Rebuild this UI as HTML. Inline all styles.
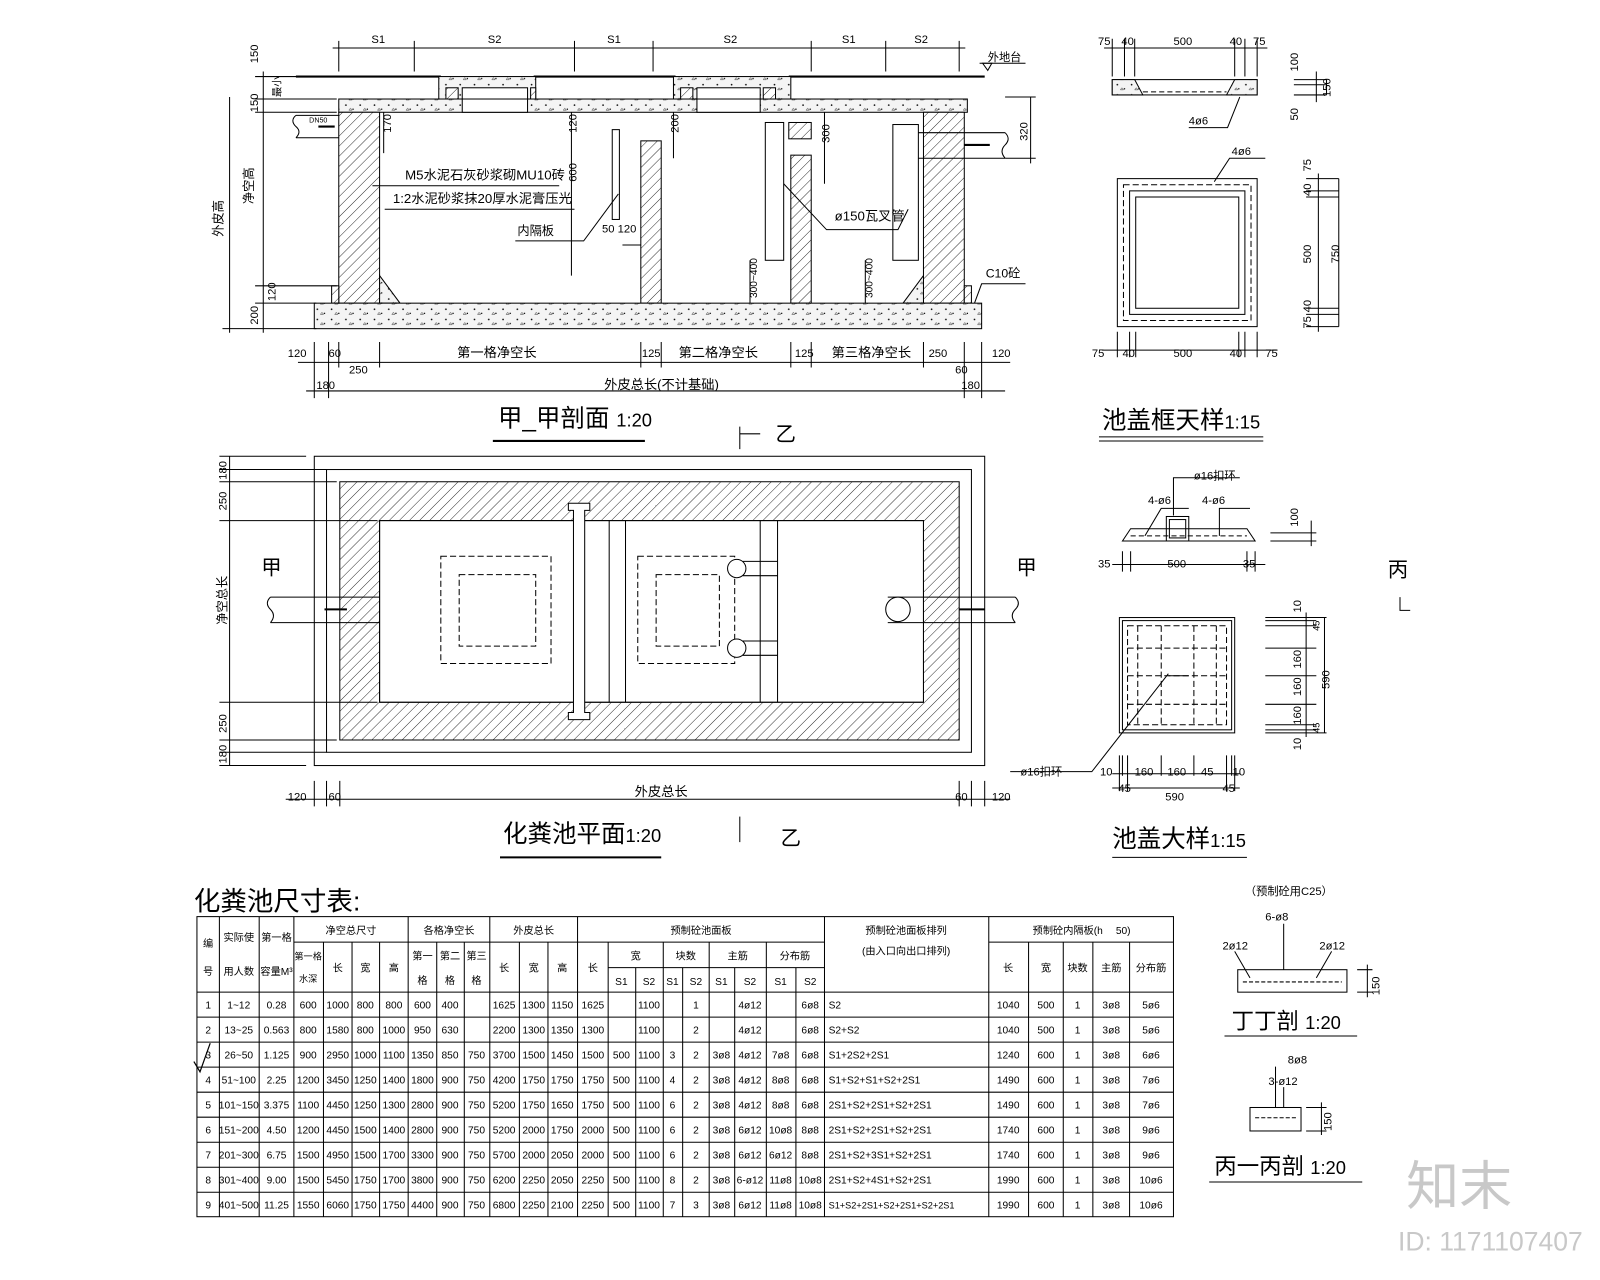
<!DOCTYPE html>
<html><head><meta charset="utf-8">
<style>
html,body{margin:0;padding:0;background:#fff;}
svg{display:block;}
text{font-family:"Liberation Sans","Noto Sans CJK SC",sans-serif;fill:#000;}
.cj{font-family:"Liberation Sans","Noto Sans CJK SC",sans-serif;}
.s{font-size:11px;}
.t{font-size:10px;}
</style></head><body>
<svg width="1600" height="1280" viewBox="0 0 1568 1254" preserveAspectRatio="none" xmlns="http://www.w3.org/2000/svg">
<defs>
<pattern id="h" width="7" height="7" patternUnits="userSpaceOnUse" patternTransform="rotate(45)">
<rect width="7" height="7" fill="#fff"/><line x1="0" y1="0" x2="0" y2="7" stroke="#000" stroke-width="0.8"/></pattern>
<pattern id="c" width="14" height="10" patternUnits="userSpaceOnUse">
<rect width="14" height="10" fill="#f4f4f4"/><circle cx="3" cy="3" r="0.8" fill="#000"/><circle cx="10" cy="7" r="0.7" fill="#000"/><path d="M6 8 l1.5 -2 l1.5 2z" fill="none" stroke="#000" stroke-width="0.4"/></pattern>
</defs>
<rect width="1568" height="1254" fill="#fff"/>
<g stroke="#000" stroke-width="1" fill="none">
<!-- SECTION top dims -->
<line x1="326" y1="47" x2="946" y2="47"/>
<path d="M332 40V70 M406 40V70 M563 40V70 M640 40V70 M795 40V70 M868 40V70 M940 40V70"/>
<!-- ground -->
<line x1="290" y1="75" x2="432" y2="75" stroke-width="2"/>
<line x1="523" y1="75" x2="662" y2="75" stroke-width="2"/>
<line x1="773" y1="75" x2="965" y2="75" stroke-width="2"/>
<path d="M963 62 L972 62 L968 69Z"/>
<line x1="960" y1="62" x2="1005" y2="62"/>
<!-- collars -->
<rect x="430" y="75" width="95" height="22" fill="url(#c)"/>
<rect x="453" y="86" width="64" height="11" fill="#fff"/>
<rect x="437" y="86" width="12" height="11" fill="url(#h)"/>
<rect x="520" y="86" width="5" height="11" fill="url(#h)"/>
<rect x="660" y="75" width="115" height="22" fill="url(#c)"/>
<rect x="683" y="86" width="62" height="11" fill="#fff"/>
<rect x="667" y="86" width="12" height="11" fill="url(#h)"/>
<rect x="748" y="86" width="12" height="11" fill="url(#h)"/>
<!-- slab -->
<rect x="332" y="97" width="616" height="13" fill="url(#c)"/>
<rect x="453" y="97" width="64" height="13" fill="#fff"/>
<rect x="683" y="97" width="62" height="13" fill="#fff"/>
<!-- walls -->
<rect x="332" y="110" width="40" height="187" fill="url(#h)"/>
<rect x="325" y="280" width="7" height="17" fill="url(#h)"/>
<rect x="905" y="110" width="40" height="187" fill="url(#h)"/>
<rect x="945" y="280" width="7" height="17" fill="url(#h)"/>
<rect x="628" y="138" width="20" height="159" fill="url(#h)"/>
<rect x="775" y="152" width="20" height="145" fill="url(#h)"/>
<rect x="773" y="120" width="22" height="16" fill="url(#h)"/>
<path d="M372 270 L392 297 L372 297Z M905 270 L885 297 L905 297Z" fill="url(#c)"/>
<rect x="308" y="297" width="654" height="25" fill="url(#c)"/>
<rect x="600" y="127" width="7" height="88"/>
<rect x="750" y="120" width="18" height="135"/>
<rect x="875" y="122" width="25" height="133"/>
<!-- pipes -->
<path d="M290 113 H332 M290 135 H332 M290 113 q-6 5 0 11 q6 5 0 11"/>
<path d="M900 130 H985 M900 155 H985 M985 130 q6 6 0 12 q-6 6 0 13"/>
<path d="M312 124 H328 M945 142 H970" stroke-width="2"/>
<!-- leaders -->
<path d="M365 182 H548 M377 205 H563 M505 236 H572 L606 190"/>
<path d="M768 180 L810 225 H880 L890 205"/>
<path d="M955 297 L962 278 H1005"/>
<!-- inner dims -->
<path d="M376 110 V150 M560 110 V270 M660 110 V155 M808 110 V180 M735 255 V297 M848 255 V297 M610 240 H628"/>
<path d="M985 95 H1015 M985 155 H1015 M1010 95 V160"/>
<!-- left dims -->
<path d="M258 70 V326 M225 95 V326 M250 75 H300 M250 97 H330 M250 110 H330 M250 280 H330 M250 297 H310 M218 322 H310"/>
<!-- bottom dims -->
<path d="M292 355 H990 M300 383 H985"/>
<path d="M308 335 V390 M322 335 V390 M332 335 V360 M372 335 V360 M628 335 V360 M648 335 V360 M775 335 V360 M795 335 V360 M905 335 V360 M945 335 V390 M962 335 V390"/>
<line x1="483" y1="432" x2="632" y2="432" stroke-width="2"/>
<path d="M725 418 V440 M725 425 H745"/>

<!-- PLAN -->
<rect x="308" y="447" width="657" height="303"/>
<rect x="320" y="460" width="632" height="277"/>
<path d="M333 472 H940 V725 H333Z M372 510 V688 H905 V510Z" fill="url(#h)" fill-rule="evenodd"/>
<rect x="372" y="510" width="533" height="178"/>
<path d="M557 493 H578 V500 H573 V698 H578 V705 H557 V698 H562 V500 H557Z" fill="#fff"/>
<path d="M597 510 V688 M613 510 V688 M745 510 V688 M762 510 V688"/>
<g stroke-dasharray="6 3">
<rect x="432" y="545" width="108" height="105"/>
<rect x="450" y="563" width="75" height="70"/>
<rect x="625" y="545" width="95" height="105"/>
<rect x="643" y="563" width="62" height="70"/>
</g>
<path d="M728 550 H762 M728 564 H762 M728 628 H762 M728 642 H762"/>
<circle cx="722" cy="557" r="9" fill="#fff"/><circle cx="722" cy="635" r="9" fill="#fff"/>
<path d="M265 585 H372 M265 610 H372 M265 585 q-6 6 0 12 q6 6 0 13" fill="#fff"/>
<path d="M870 585 H995 M870 610 H995 M995 585 q6 6 0 12 q-6 6 0 13"/>
<circle cx="880" cy="597" r="12" fill="#fff"/>
<path d="M318 597 H340 M940 597 H965" stroke-width="2"/>
<path d="M225 447 V750 M215 447 H300 M215 460 H320 M215 472 H330 M215 510 H370 M215 688 H370 M215 725 H330 M215 737 H320 M215 750 H300"/>
<path d="M280 783 H990 M308 765 V790 M320 765 V790 M333 765 V790 M940 765 V790 M952 765 V790 M965 765 V790"/>
<line x1="490" y1="840" x2="648" y2="840" stroke-width="2"/>
<path d="M725 800 V825"/>
<path d="M1372 585 V598 H1382"/>

<!-- RIGHT: cover frame -->
<path d="M1082 47 H1242 M1090 38 V75 M1102 38 V75 M1112 38 V75 M1210 38 V75 M1220 38 V75 M1232 38 V75"/>
<rect x="1090" y="78" width="142" height="15"/>
<path d="M1090 78 H1112 L1120 93 H1090Z M1232 78 H1210 L1202 93 H1232Z" fill="url(#c)"/>
<path d="M1120 90 H1202" stroke-dasharray="5 3"/>
<path d="M1165 125 H1203 L1215 95"/>
<path d="M1268 78 H1300 M1268 83 H1300 M1268 93 H1300 M1290 70 V100 M1300 78 V93"/>
<rect x="1095" y="175" width="137" height="145"/>
<rect x="1101" y="181" width="125" height="133" stroke-dasharray="6 3"/>
<rect x="1107" y="187" width="113" height="121"/>
<rect x="1113" y="193" width="101" height="109"/>
<path d="M1190 178 L1205 155 H1240"/>
<path d="M1095 325 V350 M1107 325 V350 M1113 325 V350 M1214 325 V350 M1220 325 V350 M1232 325 V350 M1080 343 H1252"/>
<path d="M1280 175 H1312 M1280 187 H1312 M1280 193 H1312 M1280 302 H1312 M1280 308 H1312 M1280 320 H1312 M1292 170 V325 M1312 175 V320"/>
<line x1="1077" y1="428" x2="1238" y2="428"/><line x1="1077" y1="432" x2="1238" y2="432"/>

<!-- cover detail -->
<path d="M1100 530 L1108 518 H1222 L1230 530Z"/>
<rect x="1143" y="506" width="22" height="24"/><rect x="1146" y="509" width="16" height="18"/>
<path d="M1108 525 H1222" stroke-dasharray="5 3"/>
<path d="M1150 505 V468 H1215 M1122 525 L1138 498 H1165 M1195 525 V498 H1225"/>
<path d="M1100 540 V560 M1108 540 V560 M1222 540 V560 M1230 540 V560 M1090 553 H1240"/>
<path d="M1245 522 H1290 M1245 530 H1290 M1285 510 V535"/>
<rect x="1097" y="605" width="113" height="113"/><rect x="1100" y="608" width="107" height="107"/>
<g stroke-dasharray="6 3">
<rect x="1105" y="613" width="97" height="97"/>
<path d="M1115 613 V710 M1138 613 V710 M1170 613 V710 M1192 613 V710 M1105 635 H1202 M1105 662 H1202 M1105 690 H1202"/>
</g>
<path d="M1145 662 H1165 M1145 660 L1070 756 H990"/>
<path d="M1097 740 V775 M1100 740 V760 M1105 740 V775 M1138 740 V760 M1170 740 V760 M1202 740 V775 M1207 740 V760 M1210 740 V775 M1090 758 H1215 M1090 772 H1215"/>
<path d="M1240 605 H1300 M1240 608 H1290 M1240 613 H1290 M1240 635 H1290 M1240 662 H1290 M1240 690 H1290 M1240 710 H1290 M1240 715 H1290 M1240 718 H1300 M1280 600 V722 M1298 605 V718"/>
<line x1="1090" y1="840" x2="1222" y2="840"/>

<!-- 丁丁剖 -->
<rect x="1213" y="950" width="107" height="22"/>
<path d="M1218 962 H1315" stroke-dasharray="4 2"/>
<path d="M1258 905 V950 M1210 932 L1225 958 M1305 932 L1290 958 M1330 950 H1345 M1330 972 H1345 M1340 945 V977"/>
<line x1="1200" y1="1015" x2="1330" y2="1015"/>
<rect x="1225" y="1085" width="50" height="23"/>
<path d="M1230 1095 H1270" stroke-dasharray="4 2"/>
<path d="M1250 1045 V1085 M1258 1065 V1085 M1280 1085 H1300 M1280 1108 H1300 M1295 1080 V1112"/>
<line x1="1185" y1="1158" x2="1335" y2="1158"/>

<!-- TABLE -->
<rect x="193" y="898" width="957" height="294"/>
<path d="M193 972 H1150 M193 996.5 H1150 M193 1021 H1150 M193 1045.5 H1150 M193 1070 H1150 M193 1094.5 H1150 M193 1119 H1150 M193 1143.5 H1150 M193 1168 H1150"/>
<path d="M288 923 H808 M969 923 H1150 M596 948 H808"/>
<path d="M215 898 V1192 M254 898 V1192 M288 898 V1192 M400 898 V1192 M480 898 V1192 M566 898 V1192 M808 898 V1192 M969 898 V1192"/>
<path d="M317 923 V1192 M345 923 V1192 M372 923 V1192 M428 923 V1192 M455 923 V1192 M509 923 V1192 M537 923 V1192 M596 923 V1192 M650 923 V1192 M695 923 V1192 M751 923 V1192 M1008 923 V1192 M1042 923 V1192 M1071 923 V1192 M1107 923 V1192"/>
<path d="M623 948 V1192 M669 948 V1192 M720 948 V1192 M780 948 V1192"/>
<path d="M190 1040 L196 1050 L206 1022" stroke-width="1.2"/>
</g>

<!-- SECTION text -->
<g class="s">
<text x="364" y="42">S1</text><text x="478" y="42">S2</text><text x="595" y="42">S1</text><text x="709" y="42">S2</text><text x="825" y="42">S1</text><text x="896" y="42">S2</text>
<text x="968" y="60" class="cj">外地台</text>
<text x="397" y="176" font-size="13">M5水泥石灰砂浆砌MU10砖</text>
<text x="385" y="199" font-size="13">1:2水泥砂浆抹20厚水泥膏压光</text>
<text x="507" y="230" font-size="12">内隔板</text>
<text x="590" y="228">50 120</text>
<text x="818" y="216" font-size="13">ø150瓦叉管</text>
<text x="966" y="272" font-size="12">C10砼</text>
<text x="303" y="120" font-size="7">DN50</text>
<text transform="translate(383,130) rotate(-90)">170</text>
<text transform="translate(565,130) rotate(-90)">120</text>
<text transform="translate(565,178) rotate(-90)">600</text>
<text transform="translate(665,130) rotate(-90)">200</text>
<text transform="translate(813,140) rotate(-90)">300</text>
<text transform="translate(742,292) rotate(-90)" font-size="10">300~400</text>
<text transform="translate(855,292) rotate(-90)" font-size="10">300~400</text>
<text transform="translate(1007,138) rotate(-90)">320</text>
<text transform="translate(253,62) rotate(-90)">150</text>
<text transform="translate(253,110) rotate(-90)">150</text>
<text transform="translate(270,295) rotate(-90)">120</text>
<text transform="translate(253,318) rotate(-90)">200</text>
<text transform="translate(275,95) rotate(-90)" font-size="10">最小</text>
<text transform="translate(218,232) rotate(-90)" font-size="12">外皮高</text>
<text transform="translate(248,200) rotate(-90)" font-size="12">净空高</text>
<text x="282" y="350">120</text><text x="322" y="350">60</text><text x="342" y="366">250</text>
<text x="448" y="350" font-size="13">第一格净空长</text><text x="629" y="350">125</text>
<text x="665" y="350" font-size="13">第二格净空长</text><text x="779" y="350">125</text>
<text x="815" y="350" font-size="13">第三格净空长</text><text x="910" y="350">250</text><text x="972" y="350">120</text>
<text x="936" y="366">60</text>
<text x="310" y="381">180</text><text x="592" y="381" font-size="13">外皮总长(不计基础)</text><text x="942" y="381">180</text>
</g>
<text x="488" y="418" font-size="24">甲_甲剖面 <tspan font-size="18">1:20</tspan></text>
<text x="760" y="432" font-size="20">乙</text>

<!-- PLAN text -->
<g class="s">
<text transform="translate(222,470) rotate(-90)">180</text>
<text transform="translate(222,500) rotate(-90)">250</text>
<text transform="translate(222,612) rotate(-90)" font-size="12">净空总长</text>
<text transform="translate(222,718) rotate(-90)">250</text>
<text transform="translate(222,748) rotate(-90)">180</text>
<text x="282" y="784">120</text><text x="322" y="784">60</text>
<text x="622" y="780" font-size="13">外皮总长</text>
<text x="936" y="784">60</text><text x="972" y="784">120</text>
</g>
<text x="256" y="563" font-size="20">甲</text>
<text x="996" y="563" font-size="20">甲</text>
<text x="765" y="828" font-size="20">乙</text>
<text x="1360" y="565" font-size="20">丙</text>
<text x="493" y="825" font-size="24">化粪池平面<tspan font-size="18">1:20</tspan></text>

<!-- RIGHT text -->
<g class="s">
<text x="1076" y="44">75</text><text x="1099" y="44">40</text><text x="1150" y="44">500</text><text x="1205" y="44">40</text><text x="1228" y="44">75</text>
<text x="1165" y="122">4ø6</text><text x="1207" y="152">4ø6</text>
<text transform="translate(1272,70) rotate(-90)">100</text>
<text transform="translate(1304,95) rotate(-90)">150</text>
<text transform="translate(1272,118) rotate(-90)">50</text>
<text x="1070" y="350">75</text><text x="1100" y="350">40</text><text x="1150" y="350">500</text><text x="1205" y="350">40</text><text x="1240" y="350">75</text>
<text transform="translate(1285,168) rotate(-90)">75</text>
<text transform="translate(1285,192) rotate(-90)">40</text>
<text transform="translate(1285,258) rotate(-90)">500</text>
<text transform="translate(1312,258) rotate(-90)">750</text>
<text transform="translate(1285,306) rotate(-90)">40</text>
<text transform="translate(1285,322) rotate(-90)">75</text>
<text x="1170" y="470">ø16扣环</text><text x="1125" y="494">4-ø6</text><text x="1178" y="494">4-ø6</text>
<text transform="translate(1272,516) rotate(-90)">100</text>
<text x="1076" y="556">35</text><text x="1144" y="556">500</text><text x="1218" y="556">35</text>
<text x="1000" y="760">ø16扣环</text>
<text x="1078" y="760">10</text><text x="1112" y="760">160</text><text x="1144" y="760">160</text><text x="1177" y="760">45</text><text x="1208" y="760">10</text>
<text x="1096" y="776">45</text><text x="1142" y="784">590</text><text x="1198" y="776">45</text>
<text transform="translate(1275,600) rotate(-90)">10</text>
<text transform="translate(1293,618) rotate(-90)" font-size="9">45</text>
<text transform="translate(1275,655) rotate(-90)">160</text>
<text transform="translate(1275,682) rotate(-90)">160</text>
<text transform="translate(1275,710) rotate(-90)">160</text>
<text transform="translate(1303,675) rotate(-90)">590</text>
<text transform="translate(1293,718) rotate(-90)" font-size="9">45</text>
<text transform="translate(1275,735) rotate(-90)">10</text>
<text x="1220" y="877">（预制砼用C25）</text>
<text x="1240" y="902">6-ø8</text><text x="1198" y="930">2ø12</text><text x="1293" y="930">2ø12</text>
<text transform="translate(1352,975) rotate(-90)">150</text>
<text x="1262" y="1042">8ø8</text><text x="1243" y="1063">3-ø12</text>
<text transform="translate(1305,1108) rotate(-90)">150</text>
</g>
<text x="1080" y="420" font-size="24">池盖框天样<tspan font-size="18">1:15</tspan></text>
<text x="1090" y="830" font-size="24">池盖大样<tspan font-size="18">1:15</tspan></text>
<text x="1207" y="1008" font-size="22">丁丁剖 <tspan font-size="18">1:20</tspan></text>
<text x="1190" y="1150" font-size="22">丙一丙剖 <tspan font-size="18">1:20</tspan></text>
<text x="1378" y="1180" font-size="52" style="fill:#c8c8c8">知末</text>
<text x="1370" y="1225" font-size="26" style="fill:#c8c8c8">ID: 1171107407</text>

<!-- TABLE text -->
<text x="190" y="892" font-size="26">化粪池尺寸表:</text>
<g class="t" text-anchor="middle">
<text x="204" y="928">编</text><text x="204" y="955">号</text>
<text x="234" y="922">实际使</text><text x="234" y="955">用人数</text>
<text x="271" y="922">第一格</text><text x="271" y="955">容量M³</text>
<text x="344" y="915">净空总尺寸</text>
<text x="302" y="940" font-size="9">第一格</text><text x="302" y="962" font-size="9">水深</text>
<text x="331" y="952">长</text><text x="358" y="952">宽</text><text x="386" y="952">高</text>
<text x="440" y="915">各格净空长</text>
<text x="414" y="940">第一</text><text x="414" y="964">格</text>
<text x="441" y="940">第二</text><text x="441" y="964">格</text>
<text x="467" y="940">第三</text><text x="467" y="964">格</text>
<text x="523" y="915">外皮总长</text>
<text x="494" y="952">长</text><text x="523" y="952">宽</text><text x="551" y="952">高</text>
<text x="687" y="915">预制砼池面板</text>
<text x="581" y="952">长</text>
<text x="623" y="940">宽</text><text x="672" y="940">块数</text><text x="723" y="940">主筋</text><text x="779" y="940">分布筋</text>
<text x="609" y="965">S1</text><text x="636" y="965">S2</text><text x="659" y="965">S1</text><text x="682" y="965">S2</text><text x="707" y="965">S1</text><text x="735" y="965">S2</text><text x="765" y="965">S1</text><text x="794" y="965">S2</text>
<text x="888" y="915">预制砼池面板排列</text>
<text x="888" y="935">(由入口向出口排列)</text>
<text x="1060" y="915">预制砼内隔板(h　 50)</text>
<text x="988" y="952">长</text><text x="1025" y="952">宽</text><text x="1056" y="952">块数</text><text x="1089" y="952">主筋</text><text x="1128" y="952">分布筋</text>

<text y="988"><tspan x="204">1</tspan><tspan x="234">1~12</tspan><tspan x="271">0.28</tspan><tspan x="302">600</tspan><tspan x="331">1000</tspan><tspan x="358">800</tspan><tspan x="386">800</tspan><tspan x="414">600</tspan><tspan x="441">400</tspan><tspan x="494">1625</tspan><tspan x="523">1300</tspan><tspan x="551">1150</tspan><tspan x="581">1625</tspan><tspan x="636">1100</tspan><tspan x="682">1</tspan><tspan x="735">4ø12</tspan><tspan x="794">6ø8</tspan><tspan x="988">1040</tspan><tspan x="1025">500</tspan><tspan x="1056">1</tspan><tspan x="1089">3ø8</tspan><tspan x="1128">5ø6</tspan></text>
<text y="1012.5"><tspan x="204">2</tspan><tspan x="234">13~25</tspan><tspan x="271">0.563</tspan><tspan x="302">800</tspan><tspan x="331">1580</tspan><tspan x="358">800</tspan><tspan x="386">1000</tspan><tspan x="414">950</tspan><tspan x="441">630</tspan><tspan x="494">2200</tspan><tspan x="523">1300</tspan><tspan x="551">1350</tspan><tspan x="581">1300</tspan><tspan x="636">1100</tspan><tspan x="682">2</tspan><tspan x="735">4ø12</tspan><tspan x="794">6ø8</tspan><tspan x="988">1040</tspan><tspan x="1025">500</tspan><tspan x="1056">1</tspan><tspan x="1089">3ø8</tspan><tspan x="1128">5ø6</tspan></text>
<text y="1037"><tspan x="204">3</tspan><tspan x="234">26~50</tspan><tspan x="271">1.125</tspan><tspan x="302">900</tspan><tspan x="331">2950</tspan><tspan x="358">1000</tspan><tspan x="386">1100</tspan><tspan x="414">1350</tspan><tspan x="441">850</tspan><tspan x="467">750</tspan><tspan x="494">3700</tspan><tspan x="523">1500</tspan><tspan x="551">1450</tspan><tspan x="581">1500</tspan><tspan x="609">500</tspan><tspan x="636">1100</tspan><tspan x="659">3</tspan><tspan x="682">2</tspan><tspan x="707">3ø8</tspan><tspan x="735">4ø12</tspan><tspan x="765">7ø8</tspan><tspan x="794">6ø8</tspan><tspan x="988">1240</tspan><tspan x="1025">600</tspan><tspan x="1056">1</tspan><tspan x="1089">3ø8</tspan><tspan x="1128">6ø6</tspan></text>
<text y="1061.5"><tspan x="204">4</tspan><tspan x="234">51~100</tspan><tspan x="271">2.25</tspan><tspan x="302">1200</tspan><tspan x="331">3450</tspan><tspan x="358">1250</tspan><tspan x="386">1400</tspan><tspan x="414">1800</tspan><tspan x="441">900</tspan><tspan x="467">750</tspan><tspan x="494">4200</tspan><tspan x="523">1750</tspan><tspan x="551">1750</tspan><tspan x="581">1750</tspan><tspan x="609">500</tspan><tspan x="636">1100</tspan><tspan x="659">4</tspan><tspan x="682">2</tspan><tspan x="707">3ø8</tspan><tspan x="735">4ø12</tspan><tspan x="765">8ø8</tspan><tspan x="794">6ø8</tspan><tspan x="988">1490</tspan><tspan x="1025">600</tspan><tspan x="1056">1</tspan><tspan x="1089">3ø8</tspan><tspan x="1128">7ø6</tspan></text>
<text y="1086"><tspan x="204">5</tspan><tspan x="234">101~150</tspan><tspan x="271">3.375</tspan><tspan x="302">1100</tspan><tspan x="331">4450</tspan><tspan x="358">1250</tspan><tspan x="386">1300</tspan><tspan x="414">2800</tspan><tspan x="441">900</tspan><tspan x="467">750</tspan><tspan x="494">5200</tspan><tspan x="523">1750</tspan><tspan x="551">1650</tspan><tspan x="581">1750</tspan><tspan x="609">500</tspan><tspan x="636">1100</tspan><tspan x="659">6</tspan><tspan x="682">2</tspan><tspan x="707">3ø8</tspan><tspan x="735">4ø12</tspan><tspan x="765">8ø8</tspan><tspan x="794">6ø8</tspan><tspan x="988">1490</tspan><tspan x="1025">600</tspan><tspan x="1056">1</tspan><tspan x="1089">3ø8</tspan><tspan x="1128">7ø6</tspan></text>
<text y="1110.5"><tspan x="204">6</tspan><tspan x="234">151~200</tspan><tspan x="271">4.50</tspan><tspan x="302">1200</tspan><tspan x="331">4450</tspan><tspan x="358">1500</tspan><tspan x="386">1400</tspan><tspan x="414">2800</tspan><tspan x="441">900</tspan><tspan x="467">750</tspan><tspan x="494">5200</tspan><tspan x="523">2000</tspan><tspan x="551">1750</tspan><tspan x="581">2000</tspan><tspan x="609">500</tspan><tspan x="636">1100</tspan><tspan x="659">6</tspan><tspan x="682">2</tspan><tspan x="707">3ø8</tspan><tspan x="735">6ø12</tspan><tspan x="765">10ø8</tspan><tspan x="794">8ø8</tspan><tspan x="988">1740</tspan><tspan x="1025">600</tspan><tspan x="1056">1</tspan><tspan x="1089">3ø8</tspan><tspan x="1128">9ø6</tspan></text>
<text y="1135"><tspan x="204">7</tspan><tspan x="234">201~300</tspan><tspan x="271">6.75</tspan><tspan x="302">1500</tspan><tspan x="331">4950</tspan><tspan x="358">1500</tspan><tspan x="386">1700</tspan><tspan x="414">3300</tspan><tspan x="441">900</tspan><tspan x="467">750</tspan><tspan x="494">5700</tspan><tspan x="523">2000</tspan><tspan x="551">2050</tspan><tspan x="581">2000</tspan><tspan x="609">500</tspan><tspan x="636">1100</tspan><tspan x="659">6</tspan><tspan x="682">2</tspan><tspan x="707">3ø8</tspan><tspan x="735">6ø12</tspan><tspan x="765">6ø12</tspan><tspan x="794">8ø8</tspan><tspan x="988">1740</tspan><tspan x="1025">600</tspan><tspan x="1056">1</tspan><tspan x="1089">3ø8</tspan><tspan x="1128">9ø6</tspan></text>
<text y="1159.5"><tspan x="204">8</tspan><tspan x="234">301~400</tspan><tspan x="271">9.00</tspan><tspan x="302">1500</tspan><tspan x="331">5450</tspan><tspan x="358">1750</tspan><tspan x="386">1700</tspan><tspan x="414">3800</tspan><tspan x="441">900</tspan><tspan x="467">750</tspan><tspan x="494">6200</tspan><tspan x="523">2250</tspan><tspan x="551">2050</tspan><tspan x="581">2250</tspan><tspan x="609">500</tspan><tspan x="636">1100</tspan><tspan x="659">8</tspan><tspan x="682">2</tspan><tspan x="707">3ø8</tspan><tspan x="735">6-ø12</tspan><tspan x="765">11ø8</tspan><tspan x="794">10ø8</tspan><tspan x="988">1990</tspan><tspan x="1025">600</tspan><tspan x="1056">1</tspan><tspan x="1089">3ø8</tspan><tspan x="1128">10ø6</tspan></text>
<text y="1184"><tspan x="204">9</tspan><tspan x="234">401~500</tspan><tspan x="271">11.25</tspan><tspan x="302">1550</tspan><tspan x="331">6060</tspan><tspan x="358">1750</tspan><tspan x="386">1750</tspan><tspan x="414">4400</tspan><tspan x="441">900</tspan><tspan x="467">750</tspan><tspan x="494">6800</tspan><tspan x="523">2250</tspan><tspan x="551">2100</tspan><tspan x="581">2250</tspan><tspan x="609">500</tspan><tspan x="636">1100</tspan><tspan x="659">7</tspan><tspan x="682">3</tspan><tspan x="707">3ø8</tspan><tspan x="735">6ø12</tspan><tspan x="765">11ø8</tspan><tspan x="794">10ø8</tspan><tspan x="988">1990</tspan><tspan x="1025">600</tspan><tspan x="1056">1</tspan><tspan x="1089">3ø8</tspan><tspan x="1128">10ø6</tspan></text>
</g>
<g class="t">
<text x="812" y="988">S2</text>
<text x="812" y="1012.5">S2+S2</text>
<text x="812" y="1037">S1+2S2+2S1</text>
<text x="812" y="1061.5">S1+S2+S1+S2+2S1</text>
<text x="812" y="1086">2S1+S2+2S1+S2+2S1</text>
<text x="812" y="1110.5">2S1+S2+2S1+S2+2S1</text>
<text x="812" y="1135">2S1+S2+3S1+S2+2S1</text>
<text x="812" y="1159.5">2S1+S2+4S1+S2+2S1</text>
<text x="812" y="1184" font-size="9">S1+S2+2S1+S2+2S1+S2+2S1</text>
</g>
</svg>
</body></html>
